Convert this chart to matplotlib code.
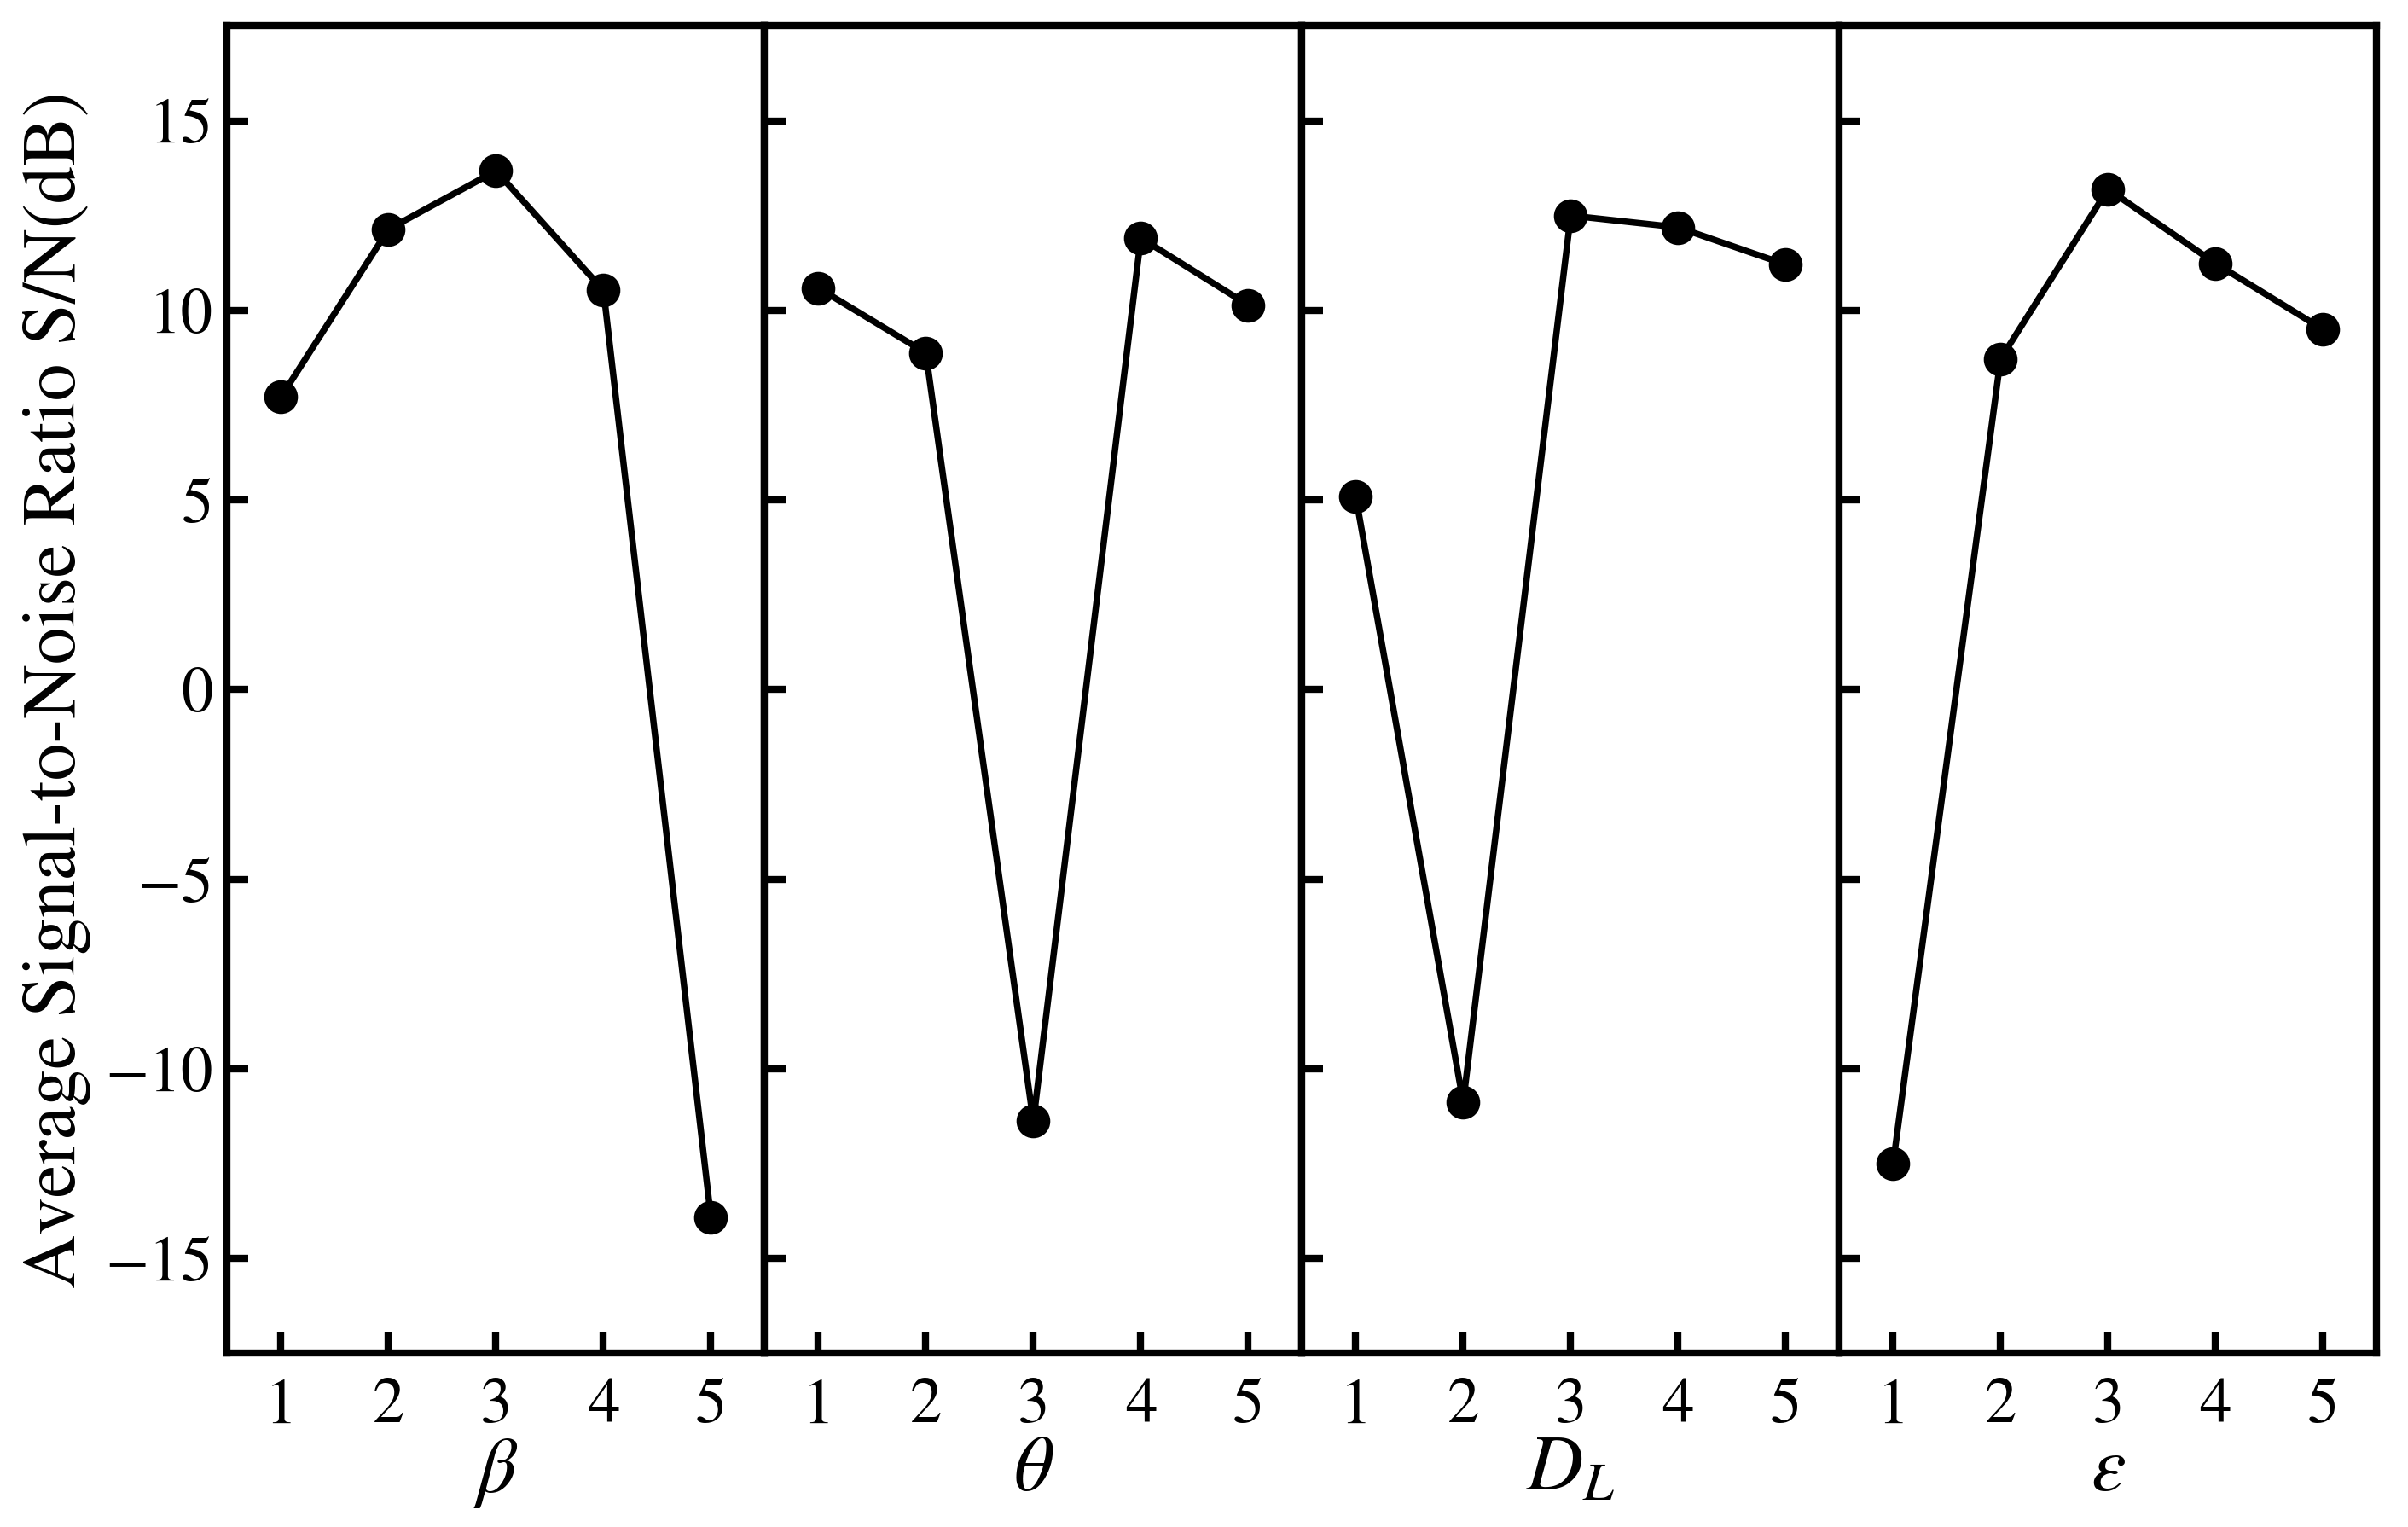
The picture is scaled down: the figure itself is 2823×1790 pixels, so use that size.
import matplotlib
matplotlib.use("Agg")
import matplotlib.pyplot as plt

# levels and mean S/N ratio (dB) for each factor
levels = [1, 2, 3, 4, 5]
factor_labels = [r"$\beta$", r"$\theta$", r"$D_L$", r"$\varepsilon$"]
sn_beta = [7.72, 12.14, 13.68, 10.53, -13.92]
sn_theta = [10.59, 8.88, -11.38, 11.91, 10.14]
sn_dl = [5.10, -10.88, 12.50, 12.19, 11.21]
sn_eps = [-12.50, 8.72, 13.20, 11.24, 9.50]
y_ticks = [-15, -10, -5, 0, 5, 10, 15]

OUT = "out.png"

plt.rcParams["font.family"] = ["STIXGeneral", "Liberation Serif"]
plt.rcParams["mathtext.fontset"] = "stix"


def main():
    fig, axes = plt.subplots(1, 4, figsize=(2823 / 300, 1790 / 300), dpi=300, sharey=True)
    fig.subplots_adjust(left=0.0944, right=0.987, top=0.983, bottom=0.1137, wspace=0)

    series = [sn_beta, sn_theta, sn_dl, sn_eps]
    for i, (ax, vals, lab) in enumerate(zip(axes, series, factor_labels)):
        ax.plot(levels, vals, color="black", lw=1.8, marker="o", ms=8.5)
        ax.set_xlim(0.5, 5.5)
        ax.set_ylim(-17.5, 17.5)
        ax.set_xticks(levels)
        ax.set_yticks(y_ticks)
        ax.tick_params(axis="both", direction="in", length=6, width=2, labelsize=18)
        ax.tick_params(axis="x", pad=7)
        ax.tick_params(axis="y", pad=4, right=False)
        for sp in ax.spines.values():
            sp.set_linewidth(2)
        ax.set_xlabel(lab, fontsize=22, labelpad=0)
        if i > 0:
            ax.tick_params(axis="y", labelleft=False)

    axes[0].set_ylabel("Average Signal-to-Noise Ratio S/N(dB)", fontsize=21, labelpad=4)

    fig.savefig(OUT, dpi=300)
    plt.close(fig)


if __name__ == "__main__":
    main()
